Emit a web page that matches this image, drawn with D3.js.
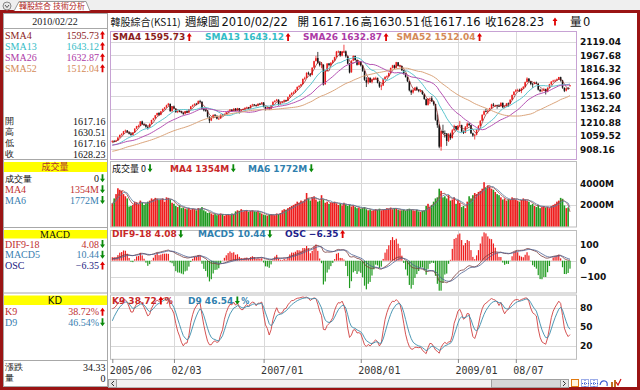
<!DOCTYPE html>
<html>
<head>
<meta charset="utf-8">
<title>韓股綜合 週線圖</title>
<script src="https://cdn.jsdelivr.net/npm/d3@7/dist/d3.min.js"></script>
<style>
  body { margin: 0; background: #ffffff; }
  svg { display: block; }
  text { font-family: "DejaVu Sans", sans-serif; }
  .cjk { font-family: "Noto Sans CJK TC", sans-serif; }
  .serif { font-family: "Liberation Serif", "DejaVu Serif", serif; }
</style>
</head>
<body>
<script>
// ---------------- data (weekly bars, KS11) ----------------
// 51 weeks before the first visible bar, only used to warm up the averages
var priorCloses = [785,770,755,745,740,735,725,745,775,800,
    820,835,840,845,850,860,845,850,840,860,
    870,880,875,880,870,880,885,896,910,920,
    930,935,950,960,975,1005,985,1000,985,960,
    965,970,945,930,935,940,935,945,960,975,990];
var priorVolumes = [2000,2100,1900,2200,2300];

// first visible bar is the week of 2005/06/17, last one is the running week 2010/02/22
var lastDate = '2010/02/22';

var opens = [995,1002,997,1008,1042,1070,1080,1112,1120,1100,
    1085,1070,1098,1142,1170,1172,1222,1190,1182,1160,
    1155,1197,1240,1258,1292,1318,1298,1337,1364,1381,
    1404,1420,1340,1390,1365,1327,1339,1337,1320,1309,
    1338,1322,1360,1392,1406,1420,1421,1451,1443,1362,
    1348,1344,1273,1233,1262,1296,1285,1252,1256,1298,
    1291,1307,1324,1341,1354,1340,1366,1342,1370,1346,
    1353,1361,1376,1381,1370,1405,1413,1404,1398,1422,
    1421,1435,1384,1365,1378,1362,1405,1443,1455,1466,
    1419,1435,1444,1462,1454,1496,1523,1544,1548,1578,
    1611,1623,1642,1701,1713,1769,1758,1745,1828,1902,
    1935,1882,1857,1860,1640,1792,1874,1855,1882,1910,
    1947,2008,2010,1962,2012,2010,1953,1870,1775,1907,
    1959,1912,1860,1896,1852,1790,1688,1662,1712,1665,
    1697,1709,1712,1657,1614,1627,1699,1724,1731,1767,
    1824,1853,1826,1887,1846,1845,1796,1760,1721,1673,
    1570,1548,1576,1603,1576,1565,1566,1528,1472,1408,
    1476,1482,1447,1418,1240,1178,937,1114,1092,1087,
    1004,1077,1035,1123,1170,1130,1174,1180,1111,1095,
    1163,1196,1180,1088,1062,1072,1128,1171,1230,1298,
    1337,1335,1344,1370,1412,1397,1402,1396,1392,1431,
    1378,1393,1425,1423,1467,1520,1558,1574,1576,1564,
    1592,1611,1665,1703,1673,1645,1644,1657,1648,1579,
    1563,1571,1584,1556,1601,1641,1671,1682,1684,1697,
    1720,1683,1600,1568,1594,1617.16];

var highs = [1010,1012,1015,1045,1075,1090,1115,1130,1125,1108,
    1092,1100,1145,1172,1185,1225,1230,1200,1188,1170,
    1198,1240,1262,1295,1320,1325,1340,1368,1385,1410,
    1430,1422,1395,1400,1370,1345,1350,1342,1325,1340,
    1345,1362,1395,1412,1425,1430,1458,1465,1448,1375,
    1362,1350,1280,1270,1300,1305,1290,1265,1300,1305,
    1312,1330,1345,1360,1360,1370,1372,1375,1372,1358,
    1368,1380,1388,1385,1408,1420,1418,1410,1425,1430,
    1440,1438,1390,1385,1383,1408,1448,1460,1475,1470,
    1440,1450,1468,1466,1500,1528,1548,1560,1582,1615,
    1630,1645,1705,1725,1775,1782,1765,1830,1905,1960,
    2004,1895,1890,1865,1800,1878,1880,1890,1915,1950,
    2015,2020,2015,2015,2085,2020,1960,1880,1910,1965,
    1962,1920,1900,1900,1858,1795,1720,1720,1718,1705,
    1720,1725,1715,1665,1640,1705,1730,1740,1772,1828,
    1858,1860,1892,1890,1860,1850,1800,1765,1725,1678,
    1580,1590,1610,1615,1585,1580,1570,1535,1480,1480,
    1490,1505,1450,1420,1300,1190,1120,1185,1120,1090,
    1090,1095,1135,1185,1172,1180,1228,1185,1120,1170,
    1210,1205,1185,1095,1080,1135,1180,1235,1300,1345,
    1365,1355,1375,1420,1430,1410,1410,1415,1435,1435,
    1400,1430,1435,1470,1525,1560,1585,1590,1590,1600,
    1620,1670,1718,1710,1680,1655,1668,1670,1650,1590,
    1585,1600,1590,1605,1645,1675,1690,1695,1705,1723,
    1725,1690,1605,1600,1610,1630.51];

var lows = [985,990,992,1005,1038,1062,1075,1100,1090,1075,
    1060,1065,1095,1135,1155,1168,1185,1170,1150,1130,
    1150,1192,1232,1250,1285,1285,1292,1330,1355,1375,
    1395,1330,1325,1360,1320,1315,1325,1312,1295,1300,
    1315,1318,1355,1385,1398,1405,1415,1435,1355,1335,
    1330,1265,1203,1225,1255,1278,1245,1240,1250,1285,
    1285,1300,1318,1335,1330,1335,1335,1338,1310,1335,
    1345,1355,1368,1360,1365,1398,1395,1388,1392,1410,
    1415,1380,1345,1355,1350,1358,1400,1435,1448,1400,
    1405,1425,1438,1445,1450,1490,1515,1530,1540,1570,
    1600,1612,1638,1690,1708,1745,1725,1740,1820,1895,
    1870,1840,1820,1626,1635,1785,1840,1845,1875,1900,
    1940,1990,1950,1955,2000,1940,1865,1762,1770,1900,
    1905,1850,1855,1840,1780,1680,1609,1640,1655,1650,
    1685,1695,1650,1600,1574,1620,1690,1712,1725,1760,
    1818,1815,1820,1840,1830,1790,1750,1715,1665,1560,
    1520,1535,1565,1570,1550,1550,1520,1465,1400,1400,
    1420,1440,1400,1230,1150,920,892,1080,1040,947,
    990,1015,1030,1115,1115,1120,1165,1100,1080,1090,
    1150,1170,1080,1050,1018,1065,1120,1165,1225,1290,
    1325,1310,1335,1365,1390,1385,1365,1385,1388,1375,
    1370,1385,1385,1415,1460,1515,1550,1560,1555,1540,
    1585,1605,1660,1665,1630,1600,1640,1640,1570,1550,
    1555,1565,1525,1550,1595,1630,1665,1670,1680,1690,
    1670,1590,1552,1560,1580,1617.16];

var closes = [1001,998,1006,1040,1069,1078,1111,1118,1102,1083,
    1071,1096,1140,1168,1170,1221,1191,1180,1162,1153,
    1195,1238,1256,1290,1316,1296,1335,1362,1379,1402,
    1421,1338,1389,1367,1326,1337,1338,1320,1307,1337,
    1321,1359,1391,1405,1419,1419,1450,1445,1363,1347,
    1345,1275,1232,1261,1295,1286,1253,1254,1297,1292,
    1306,1323,1340,1355,1339,1365,1341,1371,1345,1352,
    1360,1375,1380,1369,1404,1412,1405,1397,1421,1420,
    1434,1385,1364,1379,1361,1404,1442,1454,1467,1420,
    1434,1443,1461,1453,1495,1522,1543,1547,1577,1610,
    1622,1640,1700,1712,1768,1759,1743,1827,1900,1933,
    1883,1856,1866,1638,1791,1873,1856,1881,1908,1946,
    2007,2009,1964,2011,2012,1955,1872,1773,1906,1958,
    1913,1859,1897,1853,1791,1691,1660,1711,1664,1698,
    1710,1711,1658,1615,1626,1698,1723,1730,1766,1823,
    1852,1825,1888,1847,1846,1797,1761,1722,1674,1572,
    1547,1575,1602,1577,1566,1567,1530,1474,1407,1477,
    1481,1448,1419,1241,1180,938,1113,1093,1088,1003,
    1076,1034,1122,1171,1129,1173,1181,1110,1094,1162,
    1197,1181,1089,1063,1071,1127,1170,1229,1297,1336,
    1336,1343,1369,1413,1398,1403,1395,1391,1432,1379,
    1392,1424,1422,1466,1519,1557,1573,1575,1563,1591.56,
    1610,1664,1704,1674,1644,1643,1656,1649,1580,1562,
    1570,1583,1555,1600,1640,1670,1681,1683,1696,1721.6,
    1684,1602,1567.12,1593.67,1593.90,1628.23];

// weekly volume, millions of shares
var volumes = [2150,2600,3000,3540,3400,3300,3000,2800,2600,1850,
    1900,2000,2300,2250,2100,2400,2200,2000,2150,2300,
    2400,2600,2500,2650,2550,2450,2500,2600,2300,2700,
    2650,2500,2200,2100,1900,1800,1950,1700,1750,1650,
    1600,1700,1550,1650,1600,1500,1700,1650,1800,1500,
    1400,1250,1300,1200,1100,1150,1050,1100,1200,1150,
    1000,1100,1150,1050,1200,1150,1400,1500,1450,1600,
    1400,1450,1500,1350,1450,1500,1400,1350,1450,1300,
    1200,1100,1050,1000,1100,1150,1100,1050,1200,1150,
    1250,1500,1600,1550,1700,1800,1900,2000,2100,2300,
    2200,2400,2300,2500,3100,2600,2400,2700,2800,2500,
    2300,2400,2900,2500,2200,2300,2100,2200,2200,2300,
    2150,2000,2100,1950,2200,2050,1900,2000,1850,1950,
    1800,1700,1750,1650,1700,1800,1600,1500,1550,1450,
    1500,1600,1550,1650,1500,1550,1600,1700,1650,1750,
    1600,1700,1650,1550,1500,1500,1550,1450,1600,1650,
    1550,1500,1450,1550,1400,1350,1450,1500,1900,2100,
    1800,2000,2300,2600,2700,3500,3300,2700,2800,2600,
    2900,2400,2500,2700,2100,2400,2200,1800,1900,1700,
    2300,2800,2600,2900,3100,3000,3200,3300,3500,4100,
    3600,3800,3700,3500,3400,3200,3000,2900,2700,2500,
    2600,2400,2500,2450,2700,2600,2500,2400,2300,2450,
    2600,2500,2400,2300,2000,2100,1900,1800,2000,1700,
    1800,1900,1750,1800,1700,1900,2000,2100,2300,2400,
    2650,2566,1950,1700,1766,0];

// bottom axis: week index of each label
var tickWeeks = [0, 33, 81, 133, 185, 216];
var tickLabels = ['2005/06', '02/03', '2007/01', '2008/01', '2009/01', '08/07'];

var priceTicks = [908.16, 1059.52, 1210.88, 1362.24, 1513.60, 1664.96, 1816.32, 1967.68, 2119.04];
var volTicks = [2000, 4000];
var macdTicks = [-100, 0, 100];
var kdTicks = [20, 50, 80];

var smaPeriods = [4, 13, 26, 52];
var volMaPeriods = [4, 6];

// indicator readouts as printed on the chart (DIF9-18, MACD5, OSC / K9, D9)
var macdReadout = [4.08, 10.44, -6.35];
var macdTrend = [-1, -1, 1];
var kdReadout = [38.72, 46.54];
var kdTrend = [1, -1];

// ---------------- helpers ----------------
var fmt2 = d3.format('.2f');
var n = closes.length;
var P = priorCloses.length;
var PV = priorVolumes.length;

var allC = priorCloses.concat(closes);
var allH = priorCloses.concat(highs);
var allL = priorCloses.concat(lows);
var allV = priorVolumes.concat(volumes);

function smaSeries(arr, len, skip)
{
    var out = [];
    for (var i = skip; i < arr.length; i++)
    {
        if (i < len - 1) { out.push(null); continue; }
        var s = 0;
        for (var k = i - len + 1; k <= i; k++) s += arr[k];
        out.push(s / len);
    }
    return out;
}

function emaSeries(arr, len)
{
    var a = 2 / (len + 1), out = [arr[0]];
    for (var i = 1; i < arr.length; i++) out.push(out[i - 1] + a * (arr[i] - out[i - 1]));
    return out;
}

// MACD 9/18, signal 5
var ema9 = emaSeries(allC, 9), ema18 = emaSeries(allC, 18);
var difAll = ema9.map(function(v, i) { return v - ema18[i]; });
var sigAll = emaSeries(difAll, 5);
var dif = difAll.slice(P);
var sig = sigAll.slice(P);
var osc = dif.map(function(v, i) { return v - sig[i]; });

// KD 9
var kAll = [], dAll = [], kk = 50, dd = 50;
for (var i = 0; i < allC.length; i++)
{
    var lo = d3.min(allL.slice(Math.max(0, i - 8), i + 1));
    var hi = d3.max(allH.slice(Math.max(0, i - 8), i + 1));
    var rsv = hi === lo ? 50 : (allC[i] - lo) / (hi - lo) * 100;
    kk = kk * 2 / 3 + rsv / 3;
    dd = dd * 2 / 3 + kk / 3;
    kAll.push(kk); dAll.push(dd);
}
var kLine = kAll.slice(P), dLine = dAll.slice(P);

var smaLines = smaPeriods.map(function(p) { return smaSeries(allC, p, P); });
var volMaLines = volMaPeriods.map(function(p) { return smaSeries(allV, p, PV); });

// ---------------- scales ----------------
var x = d3.scaleLinear().domain([0, n - 1]).range([112.3, 570]);
var yPrice = d3.scaleLinear().domain([908.16, 2119.04]).range([149.3, 41.7]);
var yVol = d3.scaleLinear().domain([0, 4000]).range([226.5, 183.3]);
var yMacd = d3.scaleLinear().domain([-100, 100]).range([276.6, 244.8]);
// OSC bars get their own (clamped) scale, like the terminal does
var oscRef = d3.quantile(osc.map(Math.abs).sort(d3.ascending), 0.9);
var yOsc = d3.scaleLinear().domain([-oscRef * 30 / 21, oscRef * 30 / 21])
    .range([yMacd(0) + 30, yMacd(0) - 30]).clamp(true);
var yKd = d3.scaleLinear().domain([0, 100]).range([358.8, 294.8]);

var UP = '#ee1c1c', DOWN_VOL = '#1f9a1f';

var svg = d3.select('body').append('svg')
    .attr('width', 640)
    .attr('height', 390);

// ---------------- window frame ----------------
svg.append('rect').attr('width', 640).attr('height', 390).attr('fill', '#ffffff');
svg.append('rect').attr('width', 640).attr('height', 11).attr('fill', '#efefef');
svg.append('rect')
    .attr('x', 1.5).attr('y', 11.5).attr('width', 637).attr('height', 377)
    .attr('fill', 'none').attr('stroke', '#9a1414').attr('stroke-width', 3);

// tab
svg.append('circle').attr('cx', 7).attr('cy', 6).attr('r', 4).attr('fill', '#e8e8e8').attr('stroke', '#888');
svg.append('path').attr('d', 'M5,5L7,7.5L9,5').attr('fill', 'none').attr('stroke', '#555');
svg.append('path').attr('d', 'M14,11L19,1.5L86,1.5L90,11')
    .attr('fill', '#ffffff').attr('stroke', '#999');
svg.append('text').attr('class', 'cjk').attr('x', 52).attr('y', 9)
    .attr('text-anchor', 'middle').attr('fill', '#b02020')
    .style('font-size', '8px').text('韓股綜合 技術分析');

// ---------------- arrows ----------------
function arrow(x0, cy, dir)
{
    var c = dir > 0 ? '#e00000' : '#0a8a0a';
    var p = dir > 0
        ? [[x0 + 2.5, cy - 4], [x0 + 5, cy - 0.5], [x0 + 3.4, cy - 0.5], [x0 + 3.4, cy + 4], [x0 + 1.6, cy + 4], [x0 + 1.6, cy - 0.5], [x0, cy - 0.5]]
        : [[x0 + 2.5, cy + 4], [x0 + 5, cy + 0.5], [x0 + 3.4, cy + 0.5], [x0 + 3.4, cy - 4], [x0 + 1.6, cy - 4], [x0 + 1.6, cy + 0.5], [x0, cy + 0.5]];
    svg.append('path').attr('d', 'M' + p.join('L') + 'Z').attr('fill', c);
}

function trend(arr)
{
    return arr[n - 1] >= arr[n - 2] ? 1 : -1;
}

// ---------------- left info panel ----------------
svg.append('rect').attr('x', 3.5).attr('y', 13.5).attr('width', 104).attr('height', 373)
    .attr('fill', '#ffffff').attr('stroke', '#a8a8a8');
svg.append('line').attr('x1', 3).attr('x2', 108).attr('y1', 28.5).attr('y2', 28.5).attr('stroke', '#a8a8a8');
svg.append('text').attr('class', 'serif').attr('x', 55).attr('y', 24.5).attr('text-anchor', 'middle')
    .style('font-size', '10px').attr('fill', '#222').text(lastDate);

// label, value and arrow of one readout row; 'cjk' rows use a smaller size
function panelRow(label, value, cy, color, dir, small)
{
    svg.append('text').attr('class', 'serif').attr('x', 5).attr('y', cy + (small ? 3.2 : 3.5))
        .attr('fill', color).style('font-size', small ? '9px' : '10px').text(label);
    svg.append('text').attr('class', 'serif').attr('x', dir ? 99 : 105.5).attr('y', cy + 3.5)
        .attr('text-anchor', 'end').attr('fill', color).style('font-size', '10px').text(value);
    if (dir) arrow(100, cy, dir);
}

function panelHeader(label, top, bottom, color, cls)
{
    svg.append('line').attr('x1', 3).attr('x2', 108).attr('y1', top - 2.5).attr('y2', top - 2.5).attr('stroke', '#a8a8a8');
    svg.append('rect').attr('x', 4).attr('y', top).attr('width', 103).attr('height', bottom - top).attr('fill', '#ffff00');
    svg.append('text').attr('class', cls).attr('x', 55).attr('y', (top + bottom) / 2 + 3.3)
        .attr('text-anchor', 'middle').attr('fill', color).style('font-size', cls === 'cjk' ? '9px' : '10px').text(label);
}

var smaColors = ['#8b1c1c', '#33bcc6', '#ad3aa6', '#d48a58'];
var smaLast = smaLines.map(function(s) { return s[n - 1]; });
smaPeriods.forEach(function(p, k)
{
    panelRow('SMA' + p, fmt2(smaLast[k]), 35 + k * 11.1, smaColors[k], trend(smaLines[k]));
});

var ohlcNames = ['開', '高', '低', '收'];
var ohlcLast = [opens[n - 1], highs[n - 1], lows[n - 1], closes[n - 1]];
ohlcNames.forEach(function(name, k)
{
    panelRow(name, fmt2(ohlcLast[k]), 121 + k * 11, '#111', 0, true);
});

var volColors = ['#c03030', '#3a80b0'];
var volMaLast = volMaLines.map(function(s) { return s[n - 1]; });
panelHeader('成交量', 162, 172, '#b03030', 'cjk');
panelRow('成交量', String(volumes[n - 1]), 178.3, '#111', volumes[n - 1] >= volumes[n - 2] ? 1 : -1, true);
volMaPeriods.forEach(function(p, k)
{
    panelRow('MA' + p, Math.round(volMaLast[k]) + 'M', 189.3 + k * 10.8, volColors[k], trend(volMaLines[k]));
});

var macdNames = ['DIF9-18', 'MACD5', 'OSC'];
var macdColors = ['#c03030', '#3a80b0', '#202080'];
panelHeader('MACD', 230, 238.5, '#111', 'serif');
macdNames.forEach(function(name, k)
{
    panelRow(name, fmt2(macdReadout[k]), 244 + k * 10.8, macdColors[k], macdTrend[k]);
});

var kdNames = ['K9', 'D9'];
var kdColors = ['#c03030', '#3a80b0'];
panelHeader('KD', 295.5, 305, '#111', '');
kdNames.forEach(function(name, k)
{
    panelRow(name, fmt2(kdReadout[k]) + '%', 311.7 + k * 10.6, kdColors[k], kdTrend[k]);
});

svg.append('line').attr('x1', 3).attr('x2', 108).attr('y1', 360.5).attr('y2', 360.5).attr('stroke', '#a8a8a8');
panelRow('漲跌', fmt2(closes[n - 1] - closes[n - 2]), 367, '#111', 0, true);
panelRow('量', String(volumes[n - 1]), 378, '#111', 0, true);

// ---------------- header line ----------------
function headText(str, x0, cls, size)
{
    svg.append('text').attr('class', cls).attr('x', x0).attr('y', 25.5)
        .attr('fill', '#111').style('font-size', size + 'px').text(str);
}
headText('韓股綜合(KS11)', 110.5, 'cjk', 10);
headText('週線圖', 185, 'cjk', 11.5);
headText(lastDate, 221.5, '', 11.5);
headText('開', 297.5, 'cjk', 11.5);
headText(fmt2(opens[n - 1]), 311.5, '', 11.5);
headText('高', 360.5, 'cjk', 11.5);
headText(fmt2(highs[n - 1]), 372.5, '', 11.5);
headText('低', 421, 'cjk', 11.5);
headText(fmt2(lows[n - 1]), 433, '', 11.5);
headText('收', 485, 'cjk', 11.5);
headText(fmt2(closes[n - 1]), 496.5, '', 11.5);
arrow(552.5, 21.5, closes[n - 1] >= closes[n - 2] ? 1 : -1);
headText('量', 570, 'cjk', 11.5);
headText(String(volumes[n - 1]), 583, '', 11.5);

// ---------------- chart panels ----------------
function panelBox(top, bottom, stroke, yScale, ticks)
{
    svg.append('rect').attr('x', 110.5).attr('y', top + 0.5).attr('width', 466).attr('height', bottom - top)
        .attr('fill', '#ffffff').attr('stroke', stroke);
    svg.append('g').selectAll('line').data(ticks).enter().append('line')
        .attr('x1', 111).attr('x2', 576)
        .attr('y1', function(d) { return Math.round(yScale(d)) + 0.5; })
        .attr('y2', function(d) { return Math.round(yScale(d)) + 0.5; })
        .attr('stroke', '#d9d9d9');
    svg.append('g').selectAll('line').data(tickWeeks.slice(1)).enter().append('line')
        .attr('x1', function(d) { return Math.round(x(d)) + 0.5; })
        .attr('x2', function(d) { return Math.round(x(d)) + 0.5; })
        .attr('y1', top + 1).attr('y2', bottom)
        .attr('stroke', '#d9d9d9');
}

function rightAxis(yScale, ticks, format)
{
    var g = svg.append('g').attr('transform', 'translate(577,0)')
        .call(d3.axisRight(yScale).tickValues(ticks).tickFormat(format).tickSize(0).tickPadding(3));
    g.select('.domain').remove();
    g.selectAll('text').style('font-size', '9px').style('font-weight', 'bold')
        .style('font-family', '"DejaVu Sans", sans-serif').attr('fill', '#111');
}

function legend(items, cy)
{
    items.forEach(function(it)
    {
        var t = svg.append('text').attr('class', it.cls || '').attr('x', it.x).attr('y', cy + 3.3)
            .attr('fill', it.color).style('font-size', '9px').style('font-weight', it.cls ? 'normal' : 'bold')
            .text(it.label);
        var ax = it.x + t.node().getComputedTextLength() + 1.5;
        arrow(ax, cy, it.dir);
        if (it.suffix)
        {
            svg.append('text').attr('x', ax + 6.5).attr('y', cy + 3.3).attr('fill', it.color)
                .style('font-size', '8px').style('font-weight', 'bold').text(it.suffix);
        }
    });
}

// price panel
panelBox(31, 159, '#c7a2d4', yPrice, priceTicks);
rightAxis(yPrice, priceTicks, fmt2);

var candles = svg.append('g');
candles.selectAll('line').data(closes).enter().append('line')
    .attr('x1', function(d, i) { return x(i); })
    .attr('x2', function(d, i) { return x(i); })
    .attr('y1', function(d, i) { return yPrice(highs[i]); })
    .attr('y2', function(d, i) { return yPrice(lows[i]); })
    .attr('stroke', function(d, i) { return d >= opens[i] ? UP : '#111'; })
    .attr('stroke-width', 0.8);
candles.selectAll('rect').data(closes).enter().append('rect')
    .attr('x', function(d, i) { return x(i) - 0.75; })
    .attr('width', 1.5)
    .attr('y', function(d, i) { return yPrice(Math.max(d, opens[i])); })
    .attr('height', function(d, i) { return Math.max(0.8, Math.abs(yPrice(d) - yPrice(opens[i]))); })
    .attr('fill', function(d, i) { return d >= opens[i] ? UP : '#111'; });

var smaLineColors = ['#8b1c1c', '#5cc6cf', '#b552b3', '#dba57c'];
smaLines.forEach(function(s, k)
{
    svg.append('path')
        .attr('d', d3.line().defined(function(d) { return d != null; })
            .x(function(d, i) { return x(i); }).y(function(d) { return yPrice(d); })(s))
        .attr('fill', 'none').attr('stroke', smaLineColors[k]).attr('stroke-width', k === 0 ? 0.7 : 1);
});

legend(smaPeriods.map(function(p, k)
{
    return { x: [112.5, 205, 303, 396.5][k], label: 'SMA' + p + ' ' + fmt2(smaLast[k]), color: smaColors[k], dir: trend(smaLines[k]) };
}), 37);

// volume panel
panelBox(161, 226.5, '#bdbdbd', yVol, volTicks);
rightAxis(yVol, volTicks, function(d) { return d + 'M'; });

svg.append('g').selectAll('rect').data(volumes).enter().append('rect')
    .attr('x', function(d, i) { return x(i) - 0.8; })
    .attr('width', 1.6)
    .attr('y', function(d) { return yVol(d); })
    .attr('height', function(d) { return yVol(0) - yVol(d); })
    .attr('fill', function(d, i) { return closes[i] >= opens[i] ? UP : DOWN_VOL; });

var volLineColors = ['#9a4a4a', '#5a7fa0'];
volMaLines.forEach(function(s, k)
{
    svg.append('path')
        .attr('d', d3.line().x(function(d, i) { return x(i); }).y(function(d) { return yVol(d); })(s))
        .attr('fill', 'none').attr('stroke', volLineColors[k]).attr('stroke-width', 0.8);
});

legend([
    { x: 112, label: '成交量 ' + volumes[n - 1], color: '#111', dir: -1, cls: 'cjk' },
    { x: 170, label: 'MA4 ' + Math.round(volMaLast[0]) + 'M', color: '#c82828', dir: trend(volMaLines[0]) },
    { x: 248, label: 'MA6 ' + Math.round(volMaLast[1]) + 'M', color: '#2f7fae', dir: trend(volMaLines[1]) }
], 168.3);

// MACD panel
panelBox(230, 292.5, '#bdbdbd', yMacd, macdTicks);
rightAxis(yMacd, macdTicks, d3.format('d'));

svg.append('g').selectAll('rect').data(osc).enter().append('rect')
    .attr('x', function(d, i) { return x(i) - 0.6; })
    .attr('width', 1.2)
    .attr('y', function(d) { return Math.min(yOsc(d), yOsc(0)); })
    .attr('height', function(d) { return Math.abs(yOsc(d) - yOsc(0)); })
    .attr('fill', function(d) { return d >= 0 ? UP : DOWN_VOL; });

[dif, sig].forEach(function(s, k)
{
    svg.append('path')
        .attr('d', d3.line().x(function(d, i) { return x(i); }).y(function(d) { return yMacd(d); })(s))
        .attr('fill', 'none').attr('stroke', ['#7a3a3a', '#4a5f90'][k]).attr('stroke-width', 0.8);
});

legend(macdNames.map(function(name, k)
{
    return { x: [112, 198, 285][k], label: name + ' ' + fmt2(macdReadout[k]), color: ['#c82828', '#2f7fae', '#1f1f8a'][k], dir: macdTrend[k] };
}), 234);

// KD panel
panelBox(294.5, 358.8, '#bdbdbd', yKd, kdTicks);
rightAxis(yKd, kdTicks, d3.format('d'));

[kLine, dLine].forEach(function(s, k)
{
    svg.append('path')
        .attr('d', d3.line().x(function(d, i) { return x(i); }).y(function(d) { return yKd(d); })(s))
        .attr('fill', 'none').attr('stroke', ['#d04040', '#3a8cab'][k]).attr('stroke-width', 0.9);
});

legend(kdNames.map(function(name, k)
{
    return { x: [112, 188][k], label: name + ' ' + fmt2(kdReadout[k]), color: ['#c82828', '#2f7fae'][k], dir: kdTrend[k], suffix: '%' };
}), 300.5);

// bottom date axis
var xAxis = svg.append('g').attr('transform', 'translate(0,359)')
    .call(d3.axisBottom(x).tickValues(tickWeeks)
        .tickFormat(function(d, i) { return tickLabels[i]; }).tickSize(4).tickPadding(4));
xAxis.select('.domain').remove();
xAxis.selectAll('line').attr('stroke', '#888');
xAxis.selectAll('text').attr('text-anchor', 'start').attr('dx', -3)
    .style('font-family', '"DejaVu Sans Mono", monospace').style('font-size', '10px').attr('fill', '#333');

// ---------------- scroll bar and tool icons ----------------
svg.append('rect').attr('x', 108.5).attr('y', 379.5).attr('width', 460).attr('height', 8)
    .attr('fill', '#f3f3f3').attr('stroke', '#b8b8b8');
svg.append('rect').attr('x', 108.5).attr('y', 379.5).attr('width', 8).attr('height', 8)
    .attr('fill', '#e6e6e6').attr('stroke', '#a0a0a0');
svg.append('rect').attr('x', 491.5).attr('y', 379.5).attr('width', 69).attr('height', 8)
    .attr('fill', '#d6d6d6').attr('stroke', '#a0a0a0');
svg.append('rect').attr('x', 560.5).attr('y', 379.5).attr('width', 8).attr('height', 8)
    .attr('fill', '#e6e6e6').attr('stroke', '#a0a0a0');
svg.append('path').attr('d', 'M114,381L111.5,383.5L114,386').attr('fill', 'none').attr('stroke', '#333');
svg.append('path').attr('d', 'M563,381L565.5,383.5L563,386').attr('fill', 'none').attr('stroke', '#333');

svg.append('rect').attr('x', 571.5).attr('y', 379.5).attr('width', 7).attr('height', 7)
    .attr('fill', '#fff6e0').attr('stroke', '#e07a10');
[581, 590].forEach(function(x0)
{
    svg.append('rect').attr('x', x0 + 0.5).attr('y', 379.5).attr('width', 7).attr('height', 7)
        .attr('fill', 'none').attr('stroke', '#3a5ad0').attr('stroke-dasharray', '1,1');
    svg.append('path').attr('d', 'M' + (x0 + 4) + ',380V387M' + (x0 + 1) + ',383.5H' + (x0 + 8))
        .attr('stroke', '#3a5ad0').attr('stroke-dasharray', '1,1');
});
svg.append('path').attr('d', 'M600,385Q601,380 605,381Q608,382 607,386').attr('fill', 'none').attr('stroke', '#3a5ad0').attr('stroke-width', 1.2);
svg.append('rect').attr('x', 611).attr('y', 382).attr('width', 2).attr('height', 5).attr('fill', '#c07020');
svg.append('rect').attr('x', 614).attr('y', 380).attr('width', 2).attr('height', 7).attr('fill', '#c07020');
svg.append('path').attr('d', 'M616,382L618,385L621,379').attr('fill', 'none').attr('stroke', '#d01010').attr('stroke-width', 1.2);
</script>
</body>
</html>
